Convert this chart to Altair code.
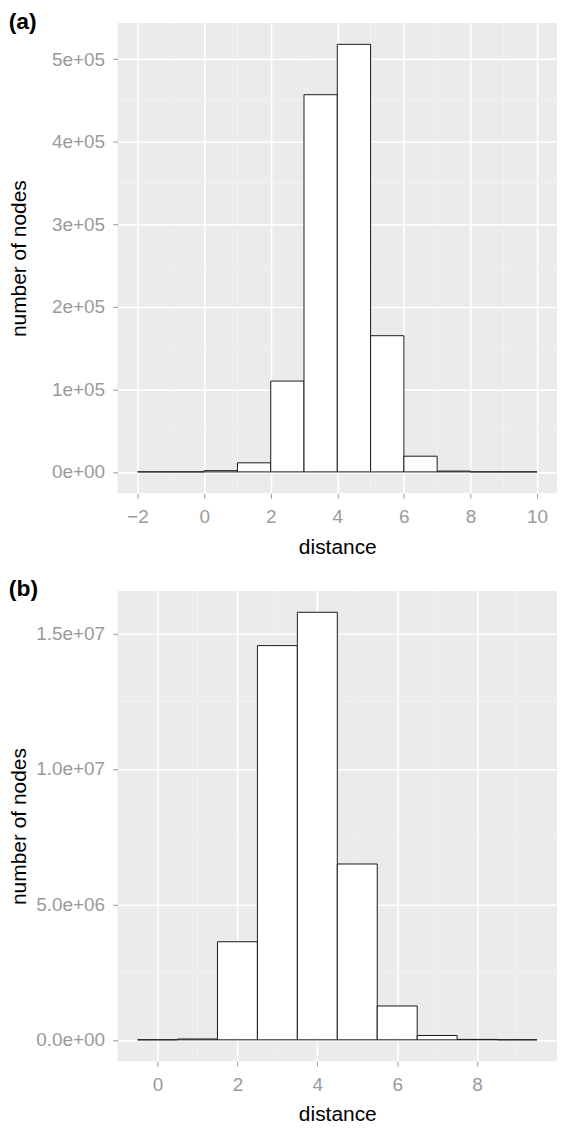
import altair as alt
import pandas as pd

# ---- data ----
# panel (a): histogram bins of width 1 starting at these edges
a_bin_start = [-2, -1, 0, 1, 2, 3, 4, 5, 6, 7, 8, 9]
a_counts = [0, 0, 1500, 11000, 110000, 457000, 518000, 165000, 19000, 1000, 0, 0]
a_xticks = [-2, 0, 2, 4, 6, 8, 10]
a_xminor = [-1, 1, 3, 5, 7, 9]
a_yticks = [0, 100000, 200000, 300000, 400000, 500000]
a_yminor = [50000, 150000, 250000, 350000, 450000]

# panel (b): bins of width 1 centred on these distances
b_bin_center = [0, 1, 2, 3, 4, 5, 6, 7, 8, 9]
b_counts = [0, 30000, 3620000, 14550000, 15780000, 6490000, 1250000, 160000, 15000, 0]
b_xticks = [0, 2, 4, 6, 8]
b_xminor = [1, 3, 5, 7, 9]
b_yticks = [0, 5000000, 10000000, 15000000]
b_yminor = [2500000, 7500000, 12500000]

FONT = "Liberation Sans"
LABEL_GREY = "#9a9a9a"


def expand(lo, hi, frac=0.05):
    d = (hi - lo) * frac
    return [lo - d, hi + d]


def panel(starts, ends, counts, xt, xm, yt, ym, label, fmt, ytitle_pad, w, h):
    xdom = expand(min(starts), max(ends))
    ydom = expand(0, max(counts))
    xs = alt.Scale(domain=xdom, nice=False, zero=False)
    ys = alt.Scale(domain=ydom, nice=False, zero=False)
    xaxis = alt.Axis(values=xt, title="distance", grid=True, gridColor="white",
                     gridWidth=1.6, domain=False, tickColor=LABEL_GREY, tickSize=5,
                     labelFontSize=19, labelColor=LABEL_GREY, labelPadding=9,
                     labelFont=FONT, titleFont=FONT, titleFontSize=21,
                     titleFontWeight="normal", titleColor="black", titlePadding=10,
                     format="d")
    yaxis = alt.Axis(values=yt, title="number of nodes", grid=True, gridColor="white",
                     gridWidth=1.6, domain=False, tickColor=LABEL_GREY, tickSize=5,
                     labelFontSize=19, labelColor=LABEL_GREY, labelPadding=8,
                     labelFont=FONT, titleFont=FONT, titleFontSize=21,
                     titleFontWeight="normal", titleColor="black",
                     titlePadding=ytitle_pad,
                     labelExpr="replace(format(datum.value, '%s'), 'e+', 'e+0')" % fmt)

    bars_df = pd.DataFrame({"x": starts, "x2": ends, "count": counts})
    vminor = pd.DataFrame({"x": xm})
    hminor = pd.DataFrame({"count": ym})

    vgrid = alt.Chart(vminor).mark_rule(color="#F3F3F3", strokeWidth=0.9).encode(
        x=alt.X("x:Q", scale=xs, axis=xaxis))
    hgrid = alt.Chart(hminor).mark_rule(color="#F3F3F3", strokeWidth=0.9).encode(
        y=alt.Y("count:Q", scale=ys, axis=yaxis))
    bars = alt.Chart(bars_df).mark_rect(fill="white", stroke="#1a1a1a",
                                        strokeWidth=1).encode(
        x=alt.X("x:Q", scale=xs, axis=xaxis),
        x2="x2:Q",
        y=alt.Y("count:Q", scale=ys, axis=yaxis),
        y2=alt.datum(0),
    )
    return alt.layer(vgrid, hgrid, bars).properties(
        width=w, height=h,
        title=alt.TitleParams(label, anchor="start", frame="bounds", fontSize=23,
                              fontWeight="bold", font=FONT, color="black",
                              offset=-11),
    )


a_ends = [s + 1 for s in a_bin_start]
b_starts = [c - 0.5 for c in b_bin_center]
b_ends = [c + 0.5 for c in b_bin_center]

pa = panel(a_bin_start, a_ends, a_counts, a_xticks, a_xminor, a_yticks, a_yminor,
           "(a)", ".0e", 22, 441, 472)
pb = panel(b_starts, b_ends, b_counts, b_xticks, b_xminor, b_yticks, b_yminor,
           "(b)", ".1e", 6, 441, 472)

chart = alt.vconcat(pa, pb, spacing=21).properties(padding=0).configure_view(
    fill="#EBEBEB", strokeWidth=0
)

chart.save("out.html", embed_options={"renderer": "svg", "actions": False})
